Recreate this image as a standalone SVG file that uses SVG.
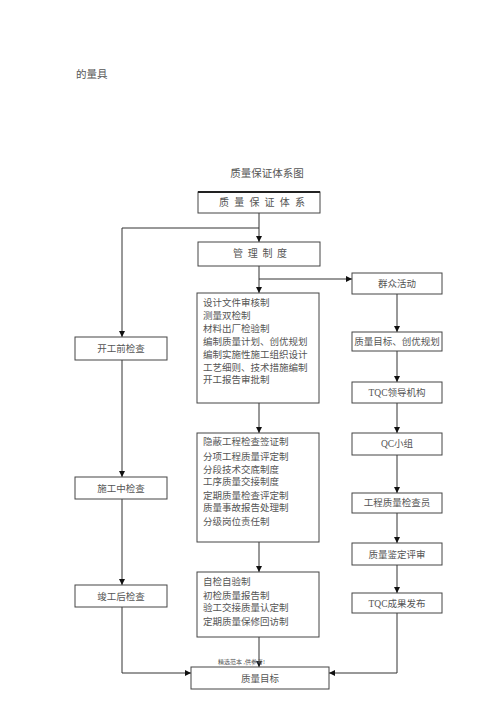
<svg xmlns="http://www.w3.org/2000/svg" width="500" height="707" viewBox="0 0 500 707">
<defs>
<marker id="ah" viewBox="0 0 6 6" refX="6" refY="3" markerWidth="6" markerHeight="6" markerUnits="userSpaceOnUse" orient="auto">
<path d="M0,0 L6,3 L0,6 Z" fill="#111"/>
</marker>
<style>
.b{fill:#fff;stroke:#444;stroke-width:1}
.t{font-family:"Liberation Serif","Noto Sans CJK SC",serif;font-size:9.5px;fill:#555}
.c{text-anchor:middle}
.l{fill:none;stroke:#333;stroke-width:1}
.a{marker-end:url(#ah)}
</style>
</defs>
<rect width="500" height="707" fill="#fff"/>
<text class="t" x="76" y="78" style="font-size:10.5px">的量具</text>
<text class="t c" x="267" y="177" style="font-size:10.5px">质量保证体系图</text>

<g id="connectors">
<path class="l a" d="M259,213 V242"/>
<path class="l a" d="M259,228 H122 V337"/>
<path class="l a" d="M259,266 V293"/>
<path class="l a" d="M259,279 H352"/>
<path class="l a" d="M259,403 V433"/>
<path class="l a" d="M259,542 V572"/>
<path class="l a" d="M259,637 V667"/>
<path class="l a" d="M122,360 V477"/>
<path class="l a" d="M122,499 V585"/>
<path class="l a" d="M122,607 V673 H191"/>
<path class="l a" d="M397,294 V332"/>
<path class="l a" d="M397,351 V382"/>
<path class="l a" d="M397,403 V433"/>
<path class="l a" d="M397,455 V493"/>
<path class="l a" d="M397,513 V543"/>
<path class="l a" d="M397,565 V593"/>
<path class="l a" d="M397,613 V673 H329"/>
</g>

<g id="n-system">
<rect class="b" x="198" y="192" width="122" height="21"/>
<line x1="198" y1="192" x2="320" y2="192" stroke="#222" stroke-width="2"/>
<text class="t" x="219" y="206" style="font-size:10px;letter-spacing:5.2px">质量保证体系</text>
</g>
<g id="n-mgmt">
<rect class="b" x="198" y="242" width="122" height="24"/>
<text class="t" x="233" y="257" style="font-size:10px;letter-spacing:4.7px">管理制度</text>
</g>

<g id="n-box1">
<rect class="b" x="197" y="293" width="122" height="110"/>
<text class="t" x="203" y="306">设计文件审核制</text>
<text class="t" x="203" y="319">测量双检制</text>
<text class="t" x="203" y="332">材料出厂检验制</text>
<text class="t" x="203" y="345">编制质量计划、创优规划</text>
<text class="t" x="203" y="358">编制实施性施工组织设计</text>
<text class="t" x="203" y="371">工艺细则、技术措施编制</text>
<text class="t" x="203" y="383">开工报告审批制</text>
</g>
<g id="n-box2">
<rect class="b" x="197" y="433" width="122" height="109"/>
<text class="t" x="203" y="445">隐蔽工程检查签证制</text>
<text class="t" x="203" y="460">分项工程质量评定制</text>
<text class="t" x="203" y="473">分段技术交底制度</text>
<text class="t" x="203" y="485">工序质量交接制度</text>
<text class="t" x="203" y="499">定期质量检查评定制</text>
<text class="t" x="203" y="511">质量事故报告处理制</text>
<text class="t" x="203" y="525">分级岗位责任制</text>
</g>
<g id="n-box3">
<rect class="b" x="197" y="572" width="122" height="65"/>
<text class="t" x="203" y="585">自检自验制</text>
<text class="t" x="203" y="599">初检质量报告制</text>
<text class="t" x="203" y="611">验工交接质量认定制</text>
<text class="t" x="203" y="625">定期质量保修回访制</text>
</g>

<g id="n-pre">
<rect class="b" x="75" y="337" width="92" height="23"/>
<text class="t c" x="121" y="352">开工前检查</text>
</g>
<g id="n-mid">
<rect class="b" x="75" y="477" width="92" height="22"/>
<text class="t c" x="121" y="492">施工中检查</text>
</g>
<g id="n-post">
<rect class="b" x="75" y="585" width="92" height="22"/>
<text class="t c" x="121" y="600">竣工后检查</text>
</g>

<g id="n-mass">
<rect class="b" x="352" y="273" width="90" height="21"/>
<text class="t c" x="397" y="287">群众活动</text>
</g>
<g id="n-goal">
<rect class="b" x="352" y="332" width="90" height="19"/>
<text class="t c" x="397" y="345">质量目标、创优规划</text>
</g>
<g id="n-tqc">
<rect class="b" x="352" y="382" width="90" height="21"/>
<text class="t c" x="397" y="396">TQC领导机构</text>
</g>
<g id="n-qc">
<rect class="b" x="352" y="433" width="90" height="22"/>
<text class="t c" x="397" y="447">QC小组</text>
</g>
<g id="n-inspector">
<rect class="b" x="352" y="493" width="90" height="20"/>
<text class="t c" x="397" y="506">工程质量检查员</text>
</g>
<g id="n-review">
<rect class="b" x="352" y="543" width="90" height="22"/>
<text class="t c" x="397" y="558">质量鉴定评审</text>
</g>
<g id="n-result">
<rect class="b" x="352" y="593" width="90" height="20"/>
<text class="t c" x="397" y="607">TQC成果发布</text>
</g>

<g id="n-target">
<rect class="b" x="191" y="667" width="138" height="22"/>
<text class="t c" x="260" y="682">质量目标</text>
</g>
<text class="t" x="218" y="664" style="font-size:6px">精选范本 ,供参考!</text>
</svg>
